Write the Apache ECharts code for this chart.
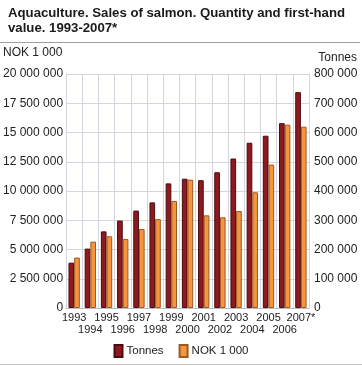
<!DOCTYPE html>
<html><head><meta charset="utf-8">
<script src="https://cdn.jsdelivr.net/npm/echarts@6/dist/echarts.min.js"></script>
<style>html,body{margin:0;padding:0;background:#fff}#c{width:362px;height:366px}</style>
</head><body><div id="c"></div>
<script>
const years = ['1993','1994','1995','1996','1997','1998','1999','2000','2001','2002','2003','2004','2005','2006','2007*'];
const tonnes = [155000,203000,262000,299000,333000,361000,426000,442000,437000,464000,511000,565000,589000,632000,738000];
const nok = [4310000,5670000,6130000,5900000,6750000,7600000,9150000,10970000,7920000,7750000,8290000,9890000,12260000,15670000,15500000];
const leftTicksMax = 20000000, leftInterval = 2500000;
const rightTicksMax = 800000, rightInterval = 100000;

function fmt(v){ return String(v).replace(/\B(?=(\d{3})+(?!\d))/g,' '); }
const chart = echarts.init(document.getElementById('c'));
const grid = '#d3d6de';
chart.setOption({
  animation:false,
  textStyle:{fontFamily:'Arial, Liberation Sans, sans-serif'},
  title:{text:'Aquaculture. Sales of salmon. Quantity and first-hand\nvalue. 1993-2007*', left:3, top:1,
    textStyle:{fontSize:13.2, fontWeight:'bold', color:'#1a1a1a', lineHeight:15, fontFamily:'Arial, Liberation Sans, sans-serif'}},
  graphic:[
    {type:'line', shape:{x1:0,y1:42.5,x2:360,y2:42.5}, style:{stroke:'#a0a0a0', lineWidth:1}},
    {type:'line', shape:{x1:0,y1:364.5,x2:362,y2:364.5}, style:{stroke:'#c8c8c8', lineWidth:1}},
    {type:'text', left:3, top:47, style:{text:'NOK 1 000', fontSize:12, fill:'#222', fontFamily:'Arial, Liberation Sans, sans-serif'}},
    {type:'text', right:5, top:52, style:{text:'Tonnes', fontSize:12, fill:'#222', fontFamily:'Arial, Liberation Sans, sans-serif'}}
  ],
  legend:{bottom:3, left:'center', itemWidth:8, itemHeight:12, itemGap:15, icon:'rect',
    textStyle:{fontSize:11.5, color:'#222', padding:[0,0,0,-1]},
    data:['Tonnes','NOK 1 000']},
  grid:{left:65, right:53, top:74, bottom:58},
  xAxis:{type:'category', data:years,
    axisLine:{lineStyle:{color:'#b8bcc4'}}, axisTick:{show:false},
    splitLine:{show:true, interval:0, lineStyle:{color:grid}},
    axisLabel:{interval:0, fontSize:11, color:'#222', margin:4, lineHeight:12,
      formatter:(v,i)=> i%2===0 ? v : '\n'+v}},
  yAxis:[
    {type:'value', min:0, max:leftTicksMax, interval:leftInterval,
      axisLine:{show:true, lineStyle:{color:grid}}, axisTick:{show:false},
      splitLine:{lineStyle:{color:grid}},
      axisLabel:{fontSize:12, color:'#222', margin:3, formatter:fmt}},
    {type:'value', min:0, max:rightTicksMax, interval:rightInterval,
      axisLine:{show:true, lineStyle:{color:grid}}, axisTick:{show:false},
      splitLine:{show:false},
      axisLabel:{fontSize:12, color:'#222', margin:5, formatter:fmt}}
  ],
  series:[
    {name:'Tonnes', type:'bar', yAxisIndex:1, data:tonnes, barGap:'0%', barCategoryGap:'30%',
      itemStyle:{color:'#8e1a1f', borderColor:'#4a0c0e', borderWidth:1}},
    {name:'NOK 1 000', type:'bar', yAxisIndex:0, data:nok, barGap:'0%', barCategoryGap:'30%',
      itemStyle:{color:'#f7943e', borderColor:'#9a5a22', borderWidth:1}}
  ]
});
</script></body></html>
